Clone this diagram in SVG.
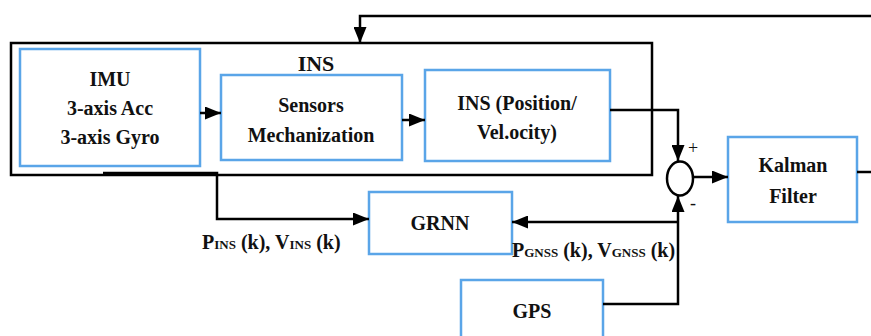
<svg xmlns="http://www.w3.org/2000/svg" width="871" height="336" viewBox="0 0 871 336">
<defs>
<style>
.blk{fill:#fff;stroke:#5aa5e8;stroke-width:2.5}
.ins{fill:none;stroke:#000;stroke-width:2.5}
.ln{fill:none;stroke:#000;stroke-width:2.5}
.arr{marker-end:url(#ah)}
text{font-family:"Liberation Serif","Times New Roman",serif;font-weight:bold;fill:#111;font-size:20px;text-anchor:middle}
.lbl{text-anchor:start}
.sub{font-size:13px}
.sign{font-weight:normal;font-size:18px}
</style>
<marker id="ah" viewBox="0 0 16 13" refX="16" refY="6.5" markerWidth="16" markerHeight="13" markerUnits="userSpaceOnUse" orient="auto">
<path d="M0,0 L16,6.5 L0,13 z" fill="#000"/>
</marker>
</defs>
<rect width="871" height="336" fill="#fff"/>

<g id="ins-system">
<rect class="ins" x="11" y="43" width="641" height="132"/>
<text x="316" y="71" style="font-size:22px">INS</text>
</g>

<g id="imu">
<rect class="blk" x="20" y="49" width="180" height="117"/>
<text x="110" y="86">IMU</text>
<text x="110" y="115">3-axis Acc</text>
<text x="110" y="144">3-axis Gyro</text>
</g>

<g id="sensors-mechanization">
<rect class="blk" x="221" y="75" width="181" height="85"/>
<text x="311" y="112">Sensors</text>
<text x="311" y="142">Mechanization</text>
</g>

<g id="ins-pos-vel">
<rect class="blk" x="425" y="70" width="185" height="91"/>
<text x="517" y="110">INS (Position/</text>
<text x="517" y="139">Vel.ocity)</text>
</g>

<g id="sum">
<ellipse cx="680" cy="178.5" rx="13" ry="17" fill="#fff" stroke="#000" stroke-width="2.5"/>
<text class="sign" x="693" y="154">+</text>
<text class="sign" x="693" y="209">-</text>
</g>

<g id="kalman-filter">
<rect class="blk" x="728" y="137" width="129" height="85"/>
<text x="793" y="172">Kalman</text>
<text x="793" y="203">Filter</text>
</g>

<g id="grnn">
<rect class="blk" x="369" y="192" width="143" height="62"/>
<text x="440" y="230">GRNN</text>
</g>

<g id="gps">
<rect class="blk" x="461" y="280" width="142" height="62"/>
<text x="532" y="318">GPS</text>
</g>

<g id="connectors">
<line class="ln arr" x1="200" y1="113" x2="221" y2="113"/>
<line class="ln arr" x1="402" y1="120" x2="425" y2="120"/>
<polyline class="ln arr" points="610,110 678,110 678,161"/>
<line class="ln arr" x1="693" y1="177" x2="728" y2="177"/>
<polyline class="ln arr" points="603,304 678,304 678,196"/>
<line class="ln arr" x1="678" y1="222" x2="512" y2="222"/>
<polyline class="ln arr" points="103,173 217,173 217,219 369,219"/>
<line class="ln" x1="857" y1="172" x2="871" y2="172"/>
<polyline class="ln arr" points="871,16 360,16 360,43"/>
</g>

<g id="labels">
<text class="lbl" x="202" y="249">P<tspan class="sub">INS</tspan> (k), V<tspan class="sub">INS</tspan> (k)</text>
<text class="lbl" x="512" y="257">P<tspan class="sub">GNSS</tspan> (k), V<tspan class="sub">GNSS</tspan> (k)</text>
</g>
</svg>
